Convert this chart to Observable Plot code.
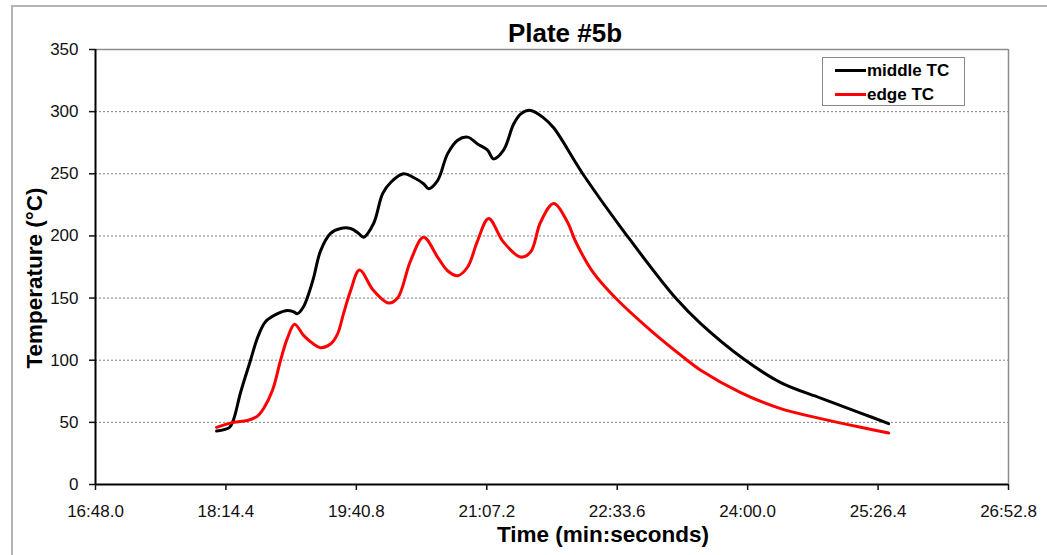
<!DOCTYPE html>
<html><head><meta charset="utf-8">
<script src="https://cdn.jsdelivr.net/npm/d3@7"></script>
<script src="https://cdn.jsdelivr.net/npm/@observablehq/plot@0.6"></script>
<style>
body{margin:0;background:#fff;font-family:"Liberation Sans",Arial,Helvetica,sans-serif;color:#000;}
#wrap{position:relative;width:1047px;height:555px;overflow:hidden;background:#fff;}
#border{position:absolute;left:11px;top:5px;width:1100px;height:600px;border-left:2px solid #b4b4b4;border-top:2px solid #b4b4b4;}
#chart{position:absolute;left:0;top:0;}
#title{position:absolute;left:0;width:1130px;top:20px;text-align:center;font-weight:bold;font-size:26px;line-height:26px;white-space:nowrap;}
#xtitle{position:absolute;left:0;width:1206px;top:523px;text-align:center;font-weight:bold;font-size:22.5px;line-height:23px;white-space:nowrap;}
#ytitle{position:absolute;left:34px;top:278px;transform:translate(-50%,-50%) rotate(-90deg);font-weight:bold;font-size:22.5px;line-height:23px;white-space:nowrap;}
#legend{position:absolute;left:822px;top:57px;width:143px;height:49px;box-sizing:border-box;border:1.5px solid #888;background:#fff;}
.lline{position:absolute;left:12px;width:31px;height:3px;}
.ltext{position:absolute;left:44px;font-weight:bold;font-size:17px;line-height:17px;white-space:nowrap;}
</style></head><body>
<div id="wrap">
  <div id="border"></div>
  <div id="chart"></div>
  <div id="title">Plate #5b</div>
  <div id="ytitle">Temperature (°C)</div>
  <div id="xtitle">Time (min:seconds)</div>
  <div id="legend">
    <div class="lline" style="top:10.5px;background:#000"></div>
    <div class="ltext" style="top:4px">middle TC</div>
    <div class="lline" style="top:34.5px;background:#ff0000"></div>
    <div class="ltext" style="top:27.5px">edge TC</div>
  </div>
</div>
<script>
// Time in seconds, temperature in °C
const middleTime = [1088.2,1096.8,1099.4,1104.1,1110.7,1115.3,1120.6,1128.6,1135.2,1139.2,1141.8,1145.8,1149.1,1152.4,1157.1,1163.7,1170.3,1177.0,1182.3,1185.6,1192.2,1198.2,1203.5,1212.1,1218.7,1225.3,1228.6,1234.6,1241.2,1247.9,1254.5,1261.1,1267.7,1271.7,1278.3,1285.0,1289.6,1296.2,1304.8,1311.5,1331.3,1360.5,1392.3,1408.9,1437.4,1461.9,1488.4,1514.9,1533.4];
const middleTemp = [43,46,52,74,100,118,131,137.5,140,139,137.5,143,153,166,188,202,206,206,202,199,210,234,243,250,247,242,238,244.5,266,277,279.5,274,269,262,269,290,298,301,295,287,249,199.5,150,129.5,101,82,69.5,57.5,49];
const edgeTime = [1088.2,1099.4,1108.7,1115.3,1119.3,1125.3,1130.6,1135.2,1139.9,1145.8,1152.4,1157.1,1163.7,1168.3,1172.3,1177.0,1182.9,1192.2,1202.1,1208.1,1216.7,1225.3,1234.6,1241.2,1247.9,1254.5,1261.1,1268.4,1278.3,1289.6,1296.2,1302.8,1311.5,1320.7,1326.0,1338.0,1352.5,1375.7,1398.9,1408.9,1435.4,1461.9,1488.4,1514.9,1533.4];
const edgeTemp = [46,50,51.5,55,61,76,100,118,129,120,113,110,113,121,137.5,156,172.5,156,146,150,180,199,183,172,168,175,196,214,195,183,187,211,226,211,195.5,170,150,124,101,92,74,61,53,46,41.5];
const xTicks = [1008,1094.4,1180.8,1267.2,1353.6,1440,1526.4,1612.8];
const yTicks = [0,50,100,150,200,250,300,350];
const gridVals = [50,100,150,200,250,300];

const middle = middleTime.map((t,i)=>({t, v: middleTemp[i]}));
const edge = edgeTime.map((t,i)=>({t, v: edgeTemp[i]}));

function fmt(t){
  const m = Math.floor(t/60 + 1e-9);
  const s = t - m*60;
  let ss = s.toFixed(1);
  if (s < 9.95) ss = "0" + ss;
  return m + ":" + ss;
}

const chart = Plot.plot({
  width: 1047,
  height: 555,
  marginLeft: 95,
  marginRight: 39,
  marginTop: 49,
  marginBottom: 71,
  style: {fontFamily: '"Liberation Sans", Arial, Helvetica, sans-serif', fontSize: "17px", background: "transparent", color: "#111"},
  x: {domain: [1008, 1612.8]},
  y: {domain: [0, 350]},
  marks: [
    Plot.ruleY(gridVals, {stroke: "#808080", strokeWidth: 1, strokeDasharray: "2,2"}),
    Plot.ruleY([350], {stroke: "#8c8c8c", strokeWidth: 1.5}),
    Plot.ruleX([1612.8], {stroke: "#8c8c8c", strokeWidth: 1.5}),
    Plot.line(middle, {x: "t", y: "v", stroke: "#000", strokeWidth: 3, curve: "catmull-rom"}),
    Plot.line(edge, {x: "t", y: "v", stroke: "#ff0000", strokeWidth: 3, curve: "catmull-rom"}),
    Plot.ruleX([1008], {stroke: "#000", strokeWidth: 2}),
    Plot.ruleY([0], {stroke: "#000", strokeWidth: 2}),
    Plot.axisX({ticks: xTicks, tickFormat: fmt, tickSize: 6, tickPadding: 14, strokeWidth: 1.5, label: null, fontSize: 17}),
    Plot.axisY({ticks: yTicks, tickSize: 6, tickPadding: 11, strokeWidth: 1.5, label: null, fontSize: 17})
  ]
});
document.getElementById("chart").appendChild(chart);
</script>
</body></html>
